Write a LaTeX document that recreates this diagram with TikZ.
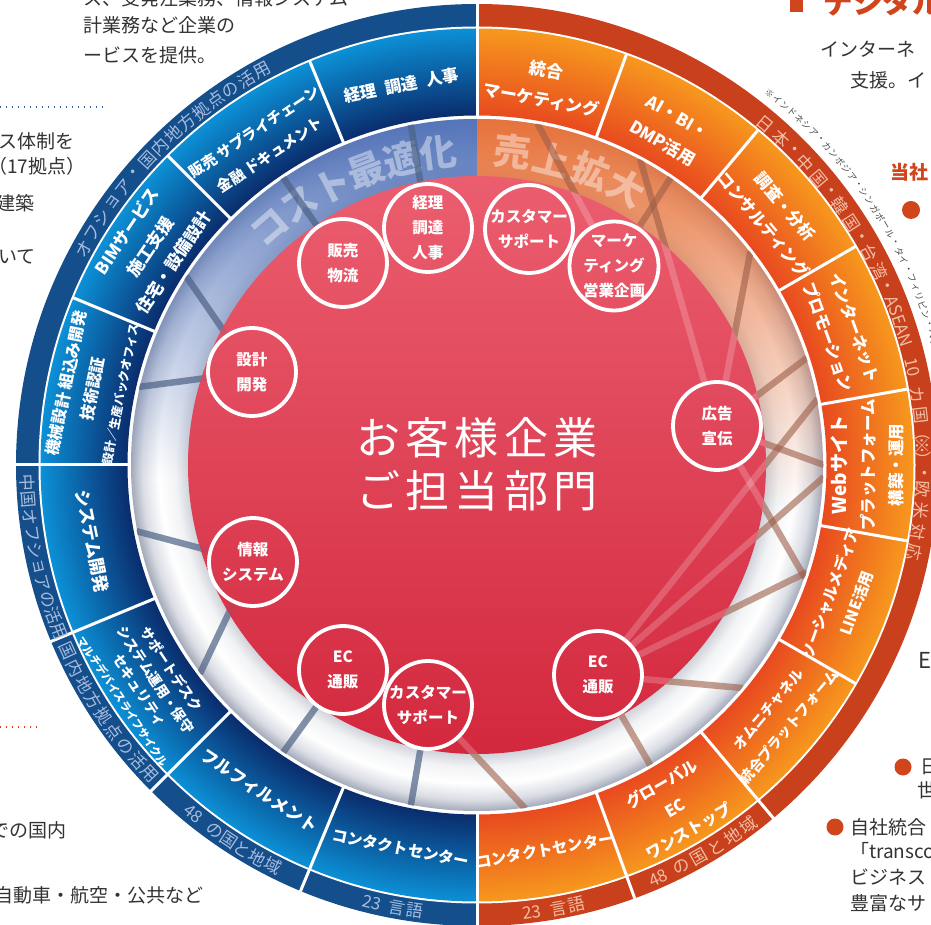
\documentclass[tikz,border=0pt]{standalone}
\usepackage{fontspec}
\newfontfamily\jp{Noto Sans CJK JP}
\usetikzlibrary{fadings}
\definecolor{cOBlue}{HTML}{144F8C}
\definecolor{cORed}{HTML}{C8401C}
\definecolor{cSBL}{HTML}{0C90D6}
\definecolor{cSBD}{HTML}{0A2C6C}
\definecolor{cSOL}{HTML}{F7981E}
\definecolor{cSOD}{HTML}{E84A1F}
\definecolor{cRedT}{HTML}{EB5E6F}
\definecolor{cRedB}{HTML}{D3283E}
\definecolor{cG1}{HTML}{CDD0D7}
\definecolor{cG2}{HTML}{F2F3F5}
\definecolor{cG3}{HTML}{DADDE4}
\definecolor{cG4}{HTML}{A4AABA}
\definecolor{cTB}{HTML}{5676BB}
\definecolor{cTO}{HTML}{E8743C}
\definecolor{cBar}{HTML}{4D6285}
\definecolor{cBrown}{HTML}{9C5E48}
\definecolor{cTxtB}{HTML}{A6BCDF}
\definecolor{cTxtR}{HTML}{F4BDA2}
\definecolor{cFrag}{HTML}{333333}
\definecolor{cNote}{HTML}{4A4A4A}
\definecolor{cAcc}{HTML}{D0451B}
\definecolor{cDotB}{HTML}{2E5FA8}
\pgfdeclareradialshading{segblue}{\pgfpointorigin}{color(0bp)=(cSBD); color(20bp)=(cSBD); color(25bp)=(cSBL); color(50bp)=(cSBL)}
\pgfdeclareradialshading{segor}{\pgfpointorigin}{color(0bp)=(cSOD); color(20bp)=(cSOD); color(25bp)=(cSOL); color(50bp)=(cSOL)}
\pgfdeclareradialshading{greyring}{\pgfpointorigin}{color(0bp)=(cG1); color(20.8bp)=(cG1); color(21.8bp)=(cG2); color(23bp)=(white); color(24.2bp)=(cG3); color(25bp)=(cG4); color(50bp)=(cG4)}
\tikzfading[name=tintfade, top color=transparent!0, middle color=transparent!40, bottom color=transparent!100]
\begin{document}
\begin{tikzpicture}[x=1pt,y=1pt,
  seglab/.style={text=white, align=center, inner sep=0pt, font=\jp\bfseries\fontsize{16.5}{28}\selectfont},
  bubble/.style={circle, draw=white, line width=3.8pt, minimum size=88pt, inner sep=0pt, align=center, text=white, font=\jp\bfseries\fontsize{15.5}{25}\selectfont},
  obb/.style={text=cTxtB, inner sep=0pt, font=\jp\fontsize{17}{17}\selectfont},
  obr/.style={text=cTxtR, inner sep=0pt, font=\jp\fontsize{17}{17}\selectfont},
  note/.style={text=cNote, inner sep=0pt, font=\jp\fontsize{9}{9}\selectfont},
  bigb/.style={text=white, text opacity=0.42, inner sep=0pt, font=\jp\bfseries\fontsize{37}{37}\selectfont},
  frag/.style={text=cFrag, inner sep=0pt, anchor=west, font=\jp\fontsize{19}{19}\selectfont},
  bluebar/.style={cBar, line width=6.5pt, opacity=0.7},
  brownbar/.style={cBrown, line width=6.5pt, opacity=0.6},
  bluefaint/.style={cBar, line width=6.5pt, opacity=0.15},
  brownfaint/.style={white, line width=6.5pt, opacity=0.2},
  ]
\useasboundingbox (-477,-460) rectangle (454,465);
\fill[white] (-477,-460) rectangle (454,465);
% outer band
\fill[cOBlue] (90:461) arc[start angle=90,end angle=270,radius=461] -- cycle;
\fill[cORed] (-90:461) arc[start angle=-90,end angle=90,radius=461] -- cycle;
\fill[white] (0,0) circle (438.5);
% segment ring
\begin{scope}
  \clip (90:436.5) arc[start angle=90,end angle=270,radius=436.5] -- (270:349.5) arc[start angle=270,end angle=90,radius=349.5] -- cycle;
  \shade[shading=segblue] (0,0) circle (436.5);
\end{scope}
\begin{scope}
  \clip (-90:436.5) arc[start angle=-90,end angle=90,radius=436.5] -- (90:349.5) arc[start angle=90,end angle=-90,radius=349.5] -- cycle;
  \shade[shading=segor] (0,0) circle (436.5);
\end{scope}
\foreach \a in {90,112.5,135,157.5,180,202.5,225,247.5,270,70,50,30,10,-10,-30,-50,-70}
  \draw[white, line width=3pt] (\a:348) -- (\a:438);
\foreach \a in {90,180,202.5,225,247.5,270,-50,-70}
  \draw[white, line width=3pt] (\a:437) -- (\a:463);
% grey ring
\shade[shading=greyring] (0,0) circle (346);
\begin{scope}
  \clip (90:346) arc[start angle=90,end angle=270,radius=346] -- cycle;
  \fill[cTB, path fading=tintfade] (-346,-10) rectangle (0,346);
\end{scope}
\begin{scope}
  \clip (-90:346) arc[start angle=-90,end angle=90,radius=346] -- cycle;
  \fill[cTO, path fading=tintfade] (0,-40) rectangle (346,346);
\end{scope}
% red disk
\shade[top color=cRedT, bottom color=cRedB] (0,0) circle (289);
% big tinted words
\foreach \a/\c in {131/コ,124.2/ス,117.4/ト,110.6/最,103.8/適,97/化}
  \node[bigb, rotate=\a-90] at (\a:315) {\c};
\foreach \a/\c in {83.5/売,76.2/上,68.9/拡,61.6/大}
  \node[bigb, rotate=\a-90] at (\a:315) {\c};
% department circles
\node[bubble] (keiri) at (-49,237) {経理\\調達\\人事};
\node[bubble] (cs1) at (52,236) {カスタマー\\サポート};
\node[bubble] (mkt) at (137,199) {マーケ\\ティング\\営業企画};
\node[bubble] (hanbai) at (-134,202) {販売\\物流};
\node[bubble] (sekkei) at (-225,93) {設計\\開発};
\node[bubble] (kokoku) at (240,39) {広告\\宣伝};
\node[bubble] (joho) at (-224,-97) {情報\\システム};
\node[bubble] (ecL) at (-134,-205) {EC\\通販};
\node[bubble] (cs2) at (-49,-240) {カスタマー\\サポート};
\node[bubble] (ecR) at (121,-210) {EC\\通販};
\node[text=white, align=center, inner sep=0pt, font=\jp\fontsize{44}{53}\selectfont\addfontfeature{LetterSpace=12}] (main) at (0,1) {お客様企業\\ご担当部門};
% ring end points
\foreach \a/\n in {101/b101,124/b124,147/b147,167/b167,191/b191,217/b217,236/b236,259/b259,80/r80,56/r56,62/r62,38/r38,18/r18,0/r0,-19/rm19,11/r11,-2/rm2,-18/rm18,-40/rm40,-60/rm60,-82/rm82}
  \coordinate (\n) at (\a:347);
\begin{scope}
  \clip (346.5,0) arc[start angle=0,end angle=360,radius=346.5] (289,0) arc[start angle=0,end angle=-360,radius=289];
  \foreach \s/\t in {keiri/b101,hanbai/b124,sekkei/b147,sekkei/b167,joho/b191,joho/b217,ecL/b236,cs2/b259}
    \draw[bluebar] (\s) -- (\t);
  \foreach \s/\t in {mkt/r80,mkt/r56,kokoku/r62,kokoku/r38,kokoku/r18,kokoku/r0,kokoku/rm19,ecR/r11,ecR/rm2,ecR/rm18,ecR/rm40,ecR/rm60,cs2/rm82}
    \draw[brownbar] (\s) -- (\t);
\end{scope}
\begin{scope}
  \clip (0,0) circle (289);
  \foreach \s/\t in {keiri/b101,hanbai/b124,sekkei/b147,sekkei/b167,joho/b191,joho/b217,ecL/b236,cs2/b259}
    \draw[bluefaint] (\s) -- (\t);
  \foreach \s/\t in {mkt/r80,mkt/r56,kokoku/r62,kokoku/r38,kokoku/r18,kokoku/r0,kokoku/rm19,ecR/r11,ecR/rm2,ecR/rm18,ecR/rm40,ecR/rm60,cs2/rm82}
    \draw[brownfaint] (\s) -- (\t);
\end{scope}
% segment labels (left, blue)
\node[seglab, rotate=11.25] (s1) at (101.25:387) {経理\hspace{0.55em}調達\hspace{0.55em}人事};
\node[seglab, font=\jp\bfseries\fontsize{15}{28}\selectfont, rotate=33.75] (s2) at (123.75:387) {販売 サプライチェーン\\金融 ドキュメント};
\node[seglab, font=\jp\bfseries\fontsize{17}{28}\selectfont, rotate=56.25] (s3) at (146.25:393) {BIMサービス\\施工支援\\住宅・設備設計};
\node[seglab, font=\jp\bfseries\fontsize{16}{27}\selectfont, rotate=78.75] (s4) at (168.75:392) {機械設計 組込み開発\\技術認証\\{\fontsize{12}{12}\selectfont 設計／生産バックオフィス}};
\node[seglab, font=\jp\bfseries\fontsize{17.5}{28}\selectfont, rotate=-78.75] (s5) at (191.25:392) {システム開発};
\node[seglab, font=\jp\bfseries\fontsize{14}{19}\selectfont, rotate=-56.25] (s6) at (213.75:396) {サポートデスク\\システム運用・保守\\セキュリティ\\{\fontsize{11}{11}\selectfont マルチデバイスライフサイクル}};
\node[seglab, font=\jp\bfseries\fontsize{17}{28}\selectfont, rotate=-33.75] (s7) at (236.25:392) {フルフィルメント};
\node[seglab, font=\jp\bfseries\fontsize{15.5}{28}\selectfont, rotate=-11.25] (s8) at (258.75:391) {コンタクトセンター};
% segment labels (right, orange)
\node[seglab, font=\jp\bfseries\fontsize{17}{30}\selectfont, rotate=-10] (r1) at (80:386) {統合\\マーケティング};
\node[seglab, font=\jp\bfseries\fontsize{17}{30}\selectfont, rotate=-30] (r2) at (60:386) {AI・BI・\\DMP活用};
\node[seglab, rotate=-50] (r3) at (40:388) {調査・分析\\コンサルティング};
\node[seglab, rotate=-70] (r4) at (20:388) {インターネット\\プロモーション};
\node[seglab, rotate=90] (r5) at (0:390) {{\fontsize{19}{19}\selectfont Webサイト}\\プラットフォーム\\構築・運用};
\node[seglab, font=\jp\bfseries\fontsize{15.5}{28}\selectfont, rotate=70] (r6) at (-20:390) {ソーシャルメディア\\LINE活用};
\node[seglab, font=\jp\bfseries\fontsize{14.5}{27}\selectfont, rotate=50] (r7) at (-40:394) {オムニチャネル\\統合プラットフォーム};
\node[seglab, font=\jp\bfseries\fontsize{16}{27}\selectfont, rotate=30] (r8) at (-60:396) {グローバル\\EC\\ワンストップ};
\node[seglab, font=\jp\bfseries\fontsize{15.5}{28}\selectfont, rotate=10] (r9) at (-80:391) {コンタクトセンター};
% outer band texts (left)
\foreach \c [count=\i from 0] in {オ,フ,シ,ョ,ア,・,国,内,地,方,拠,点,の,活,用}
  {\pgfmathsetmacro\ang{151.2-2.33*\i}\node[obb, rotate=\ang-90] at (\ang:449) {\c};}
\foreach \c [count=\i from 0] in {中,国,オ,フ,シ,ョ,ア,の,活,用}
  {\pgfmathsetmacro\ang{182.3+2.155*\i}\node[obb, rotate=\ang+90] at (\ang:450) {\c};}
\foreach \c [count=\i from 0] in {国,内,地,方,拠,点,の,活,用}
  {\pgfmathsetmacro\ang{204.4+2.375*\i}\node[obb, rotate=\ang+90] at (\ang:450) {\c};}
\foreach \a/\c in {230.9/48,234.3/の,236.5/国,238.6/と,240.8/地,243.0/域,256.5/23,259.8/言,262.1/語}
  \node[obb, rotate=\a+90] at (\a:450) {\c};
% outer band texts (right)
\foreach \a/\c in {49.72/日,47.02/本,44.83/・,42.63/中,39.93/国,37.74/・,35.54/韓,32.84/国,30.65/・,28.45/台,25.75/湾,23.56/・,18.8/ASEAN,12.66/10,9.09/カ,6.39/国,4.2/（,2.46/※,0.7/）,-0.98/・,-3.17/欧,-5.87/米,-8.57/対,-11.27/応}
  \node[obr, rotate=\a-90] at (\a:446) {\c};
\foreach \a/\c in {-66.3/48,-63.0/の,-60.5/国,-58.0/と,-55.5/地,-53.0/域,-83/23,-79.6/言,-77.3/語}
  \node[obr, rotate=\a+90] at (\a:451) {\c};
\foreach \c [count=\i from 0] in {※,イ,ン,ド,ネ,シ,ア,・,カ,ン,ボ,ジ,ア,・,シ,ン,ガ,ポ,ー,ル,・,タ,イ,・,フ,ィ,リ,ピ,ン,・,ベ,ト,ナ,ム}
  {\pgfmathsetmacro\ang{51.8-1.19*\i}\node[note, rotate=\ang-90] at (\ang:473) {\c};}
% surrounding page fragments
\node[frag, anchor=base west] (f0) at (-394,459) {ス、受発注業務、情報システム};
\node[frag] (f1) at (-394,440) {計業務など企業の};
\node[frag] (f2) at (-394,410) {ービスを提供。};
\draw[cDotB, line width=1.5pt, dash pattern=on 1.5pt off 4.5pt] (-477,358) -- (-374,358);
\node[frag] (f3) at (-479,324) {ス体制を};
\node[frag] (f4) at (-489,299) {（17拠点）};
\node[frag] (f5) at (-481,262) {建築};
\node[frag] (f6) at (-479,208) {いて};
\draw[cAcc, line width=1.5pt, dash pattern=on 1.5pt off 4.5pt] (-477,-262) -- (-437,-262);
\node[frag] (f7) at (-487,-365) {での国内};
\node[frag] (f8) at (-483,-430) {自動車・航空・公共など};
\fill[cAcc] (313,453) rectangle (326,465);
\node[anchor=south west, inner sep=0pt, text=cAcc, font=\jp\bfseries\fontsize{30}{30}\selectfont] (h1) at (346,449) {デジタル};
\node[frag] (f9) at (343,416) {インターネ};
\node[frag] (f10) at (373,385) {支援。イ};
\node[frag, text=cAcc, font=\jp\bfseries\fontsize{19}{19}\selectfont] (f11) at (413,293) {当社};
\fill[cAcc] (434,255) circle (9);
\node[frag, font=\jp\fontsize{22}{22}\selectfont] (f12) at (441,-195) {E};
\fill[cAcc] (426,-302) circle (8.5);
\node[frag] (f13) at (443,-302) {日};
\node[frag] (f14) at (440,-325) {世};
\fill[cAcc] (358,-362) circle (8.5);
\node[frag] (f15) at (373,-362) {自社統合};
\node[frag] (f16) at (373,-386) {「transcosmos};
\node[frag] (f17) at (373,-412) {ビジネス};
\node[frag] (f18) at (373,-438) {豊富なサ};
\end{tikzpicture}
\end{document}
